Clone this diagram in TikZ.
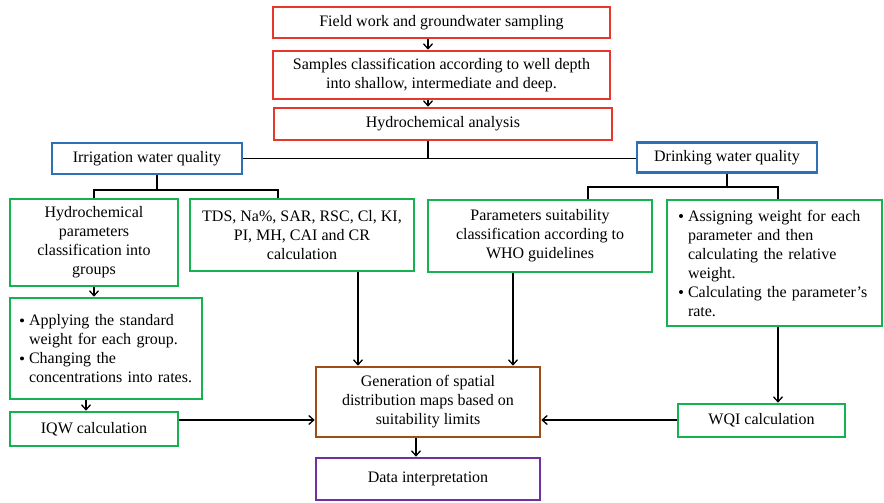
\documentclass[tikz,border=0pt]{standalone}
\usepackage{fontspec}
\setmainfont{Liberation Serif}
\usetikzlibrary{arrows.meta}
\definecolor{cred}{RGB}{230,55,45}
\definecolor{cblue}{RGB}{46,112,182}
\definecolor{cgreen}{RGB}{20,178,80}
\definecolor{cbrown}{RGB}{158,78,20}
\definecolor{cpurple}{RGB}{112,48,160}
\tikzset{
  box/.style={draw, line width=2.6pt, rectangle, inner sep=0pt, align=center, fill=white},
  redbox/.style={box, draw=cred},
  bluebox/.style={box, draw=cblue},
  greenbox/.style={box, draw=cgreen},
  brownbox/.style={box, draw=cbrown},
  purplebox/.style={box, draw=cpurple},
  conn/.style={line width=1.3pt, black},
  arr/.style={conn, -{Straight Barb[length=5pt,width=9pt,line width=1.3pt]}},
}
\newcommand{\bdot}{\tikz[baseline=0pt]{\fill[black] (1.5pt,5pt) circle[radius=2pt];\path (0pt,0pt) (8pt,0pt);}}
\newcommand{\bul}[1]{\mbox{\makebox[9pt][l]{\bdot}#1}}
\newcommand{\ind}[1]{\mbox{\hspace*{9pt}#1}}
\begin{document}
\begin{tikzpicture}[x=1pt,y=-1pt,font=\fontsize{16}{19}\selectfont]
\useasboundingbox (0,0) rectangle (884,503);
% top chain
\node[redbox, minimum width=337pt, minimum height=31pt] (field) at (441.5,22.5) {Field work and groundwater sampling};
\node[redbox, minimum width=337pt, minimum height=48pt] (samples) at (441.5,75) {Samples classification according to well depth\\into shallow, intermediate and deep.};
\node[redbox, minimum width=338pt, minimum height=32pt] (hydro) at (443,124) {Hydrochemical analysis};
% quality boxes
\node[bluebox, minimum width=190pt, minimum height=31pt] (irr) at (147,158.5) {Irrigation water quality};
\node[bluebox, minimum width=180pt, minimum height=30pt] (drink) at (727,157.5) {Drinking water quality};
% second level
\node[greenbox, minimum width=168pt, minimum height=87pt] (hcp) at (94,242.5) {Hydrochemical\\parameters\\classification into\\groups};
\node[greenbox, minimum width=224pt, minimum height=72pt] (tds) at (302,235) {TDS, Na\%, SAR, RSC, Cl, KI,\\PI, MH, CAI and CR\\calculation};
\node[greenbox, minimum width=224pt, minimum height=72pt] (param) at (540,236) {Parameters suitability\\classification according to\\WHO guidelines};
\node[greenbox, minimum width=215pt, minimum height=126pt, align=left, text width=191pt] (assign) at (774.5,263) {\bul{Assigning weight for each}\\\ind{parameter and then}\\\ind{calculating the relative}\\\ind{weight.}\\\bul{Calculating the parameter’s}\\\ind{rate.}};
\node[greenbox, minimum width=192pt, minimum height=101pt, align=left, text width=172pt] (apply) at (106,348.5) {\bul{Applying the standard}\\\ind{weight for each group.}\\\bul{Changing the}\\\ind{concentrations into rates.}};
\node[greenbox, minimum width=168pt, minimum height=34pt] (iqw) at (94,429) {IQW calculation};
\node[greenbox, minimum width=167pt, minimum height=33pt] (wqi) at (761.5,420.5) {WQI calculation};
\node[brownbox, minimum width=224pt, minimum height=70pt] (gen) at (428,402) {Generation of spatial\\distribution maps based on\\suitability limits};
\node[purplebox, minimum width=224pt, minimum height=42pt] (data) at (428,479) {Data interpretation};
% junction coordinates
\coordinate (hj) at (428,158.5);
\coordinate (ij) at (157,190);
\coordinate (dj) at (727,187);
% top arrows
\draw[arr] (field.south -| hj) -- (samples.north -| hj);
\draw[arr] (samples.south -| hj) -- (hydro.north -| hj);
\draw[conn] (hydro.south -| hj) -- (hj);
\draw[conn] (irr.east) -- (drink.west |- irr.east);
% irrigation branch
\draw[conn] (irr.south -| ij) -- (ij);
\draw[conn] (hcp.north) |- (ij) -| (tds.north -| 278,0);
% drinking branch
\draw[conn] (drink.south -| dj) -- (dj);
\draw[conn] (param.north -| 588,0) |- (dj) -| (assign.north -| 778,0);
% lower arrows
\draw[arr] (hcp.south) -- (apply.north -| hcp.south);
\draw[arr] (apply.south -| 86,0) -- (iqw.north -| 86,0);
\draw[arr] (iqw.east |- 0,420) -- (gen.west |- 0,420);
\draw[arr] (tds.south -| 358,0) -- (gen.north -| 358,0);
\draw[arr] (param.south -| 513,0) -- (gen.north -| 513,0);
\draw[arr] (assign.south -| 778,0) -- (wqi.north -| 778,0);
\draw[arr] (wqi.west |- 0,420) -- (gen.east |- 0,420);
\draw[arr] (gen.south -| 416,0) -- (data.north -| 416,0);
\end{tikzpicture}
\end{document}
